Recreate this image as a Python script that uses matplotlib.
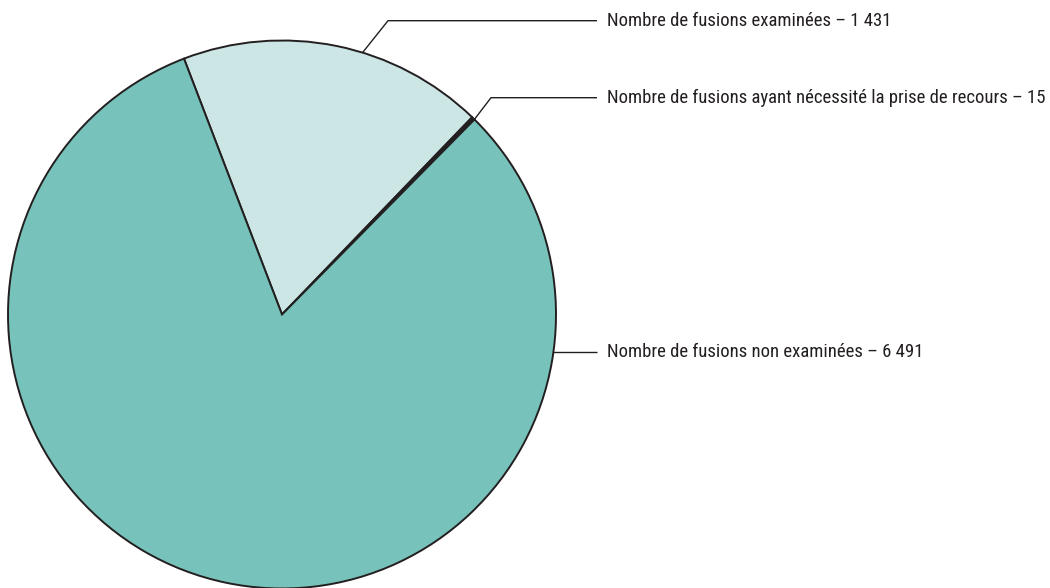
import numpy as np
import matplotlib.pyplot as plt
from matplotlib import font_manager

# narrowest family on hand
installed = {f.name for f in font_manager.fontManager.ttflist}
for fam in ['Liberation Sans Narrow', 'Roboto Condensed', 'Open Sans Condensed', 'Roboto', 'DejaVu Sans']:
    if fam in installed:
        break
plt.rcParams['font.family'] = [fam, 'DejaVu Sans']

# slices, listed clockwise from the top-left boundary
labels = ['Nombre de fusions examinées',
          'Nombre de fusions ayant nécessité la prise de recours',
          'Nombre de fusions non examinées']
values = [1431, 15, 6491]
colors = ['#cce6e5', '#231f20', '#77c2ba']

W, H = 1050, 588
fig = plt.figure(figsize=(W / 100, H / 100), dpi=100)
ax = fig.add_axes([0, 0, 1, 1])

cx, cy, r = 282, H - 314.5, 274
wedges, _ = ax.pie(values, colors=colors, startangle=110.96, counterclock=False,
                   center=(cx, cy), radius=r,
                   wedgeprops=dict(edgecolor='#231f20', linewidth=1.4))
ax.set_xlim(0, W)
ax.set_ylim(0, H)
ax.set_aspect('equal')
ax.axis('off')

# leader lines: angle where the line leaves the rim, elbow point
leaders = [(72.9, (388, H - 20.7)),
           (45.4, (491, H - 97.7)),
           (-7.8, None)]
label_y = [H - 20.7, H - 97.7, H - 351.7]
line_end = 597
text_x = 607

texts = []
for name, val, (ang, elbow), ty in zip(labels, values, leaders, label_y):
    a = np.deg2rad(ang)
    px, py = cx + r * np.cos(a), cy + r * np.sin(a)
    if elbow is None:
        xs, ys = [px, line_end], [ty, ty]
    else:
        xs, ys = [px, elbow[0], line_end], [py, elbow[1], ty]
    ax.plot(xs, ys, color='#231f20', lw=1.0, solid_capstyle='butt')
    txt = f'{name} – {val:,}'.replace(',', ' ')
    texts.append(ax.text(text_x, ty, txt, fontsize=13.5, color='#231f20',
                         ha='left', va='center'))

# shrink labels so the longest one ends near the right margin
renderer = fig.canvas.get_renderer()
widest = max(t.get_window_extent(renderer).width for t in texts)
scale = min(1.0, 438 / widest)
for t in texts:
    t.set_fontsize(13.5 * scale)

fig.savefig('out.png', dpi=100)
